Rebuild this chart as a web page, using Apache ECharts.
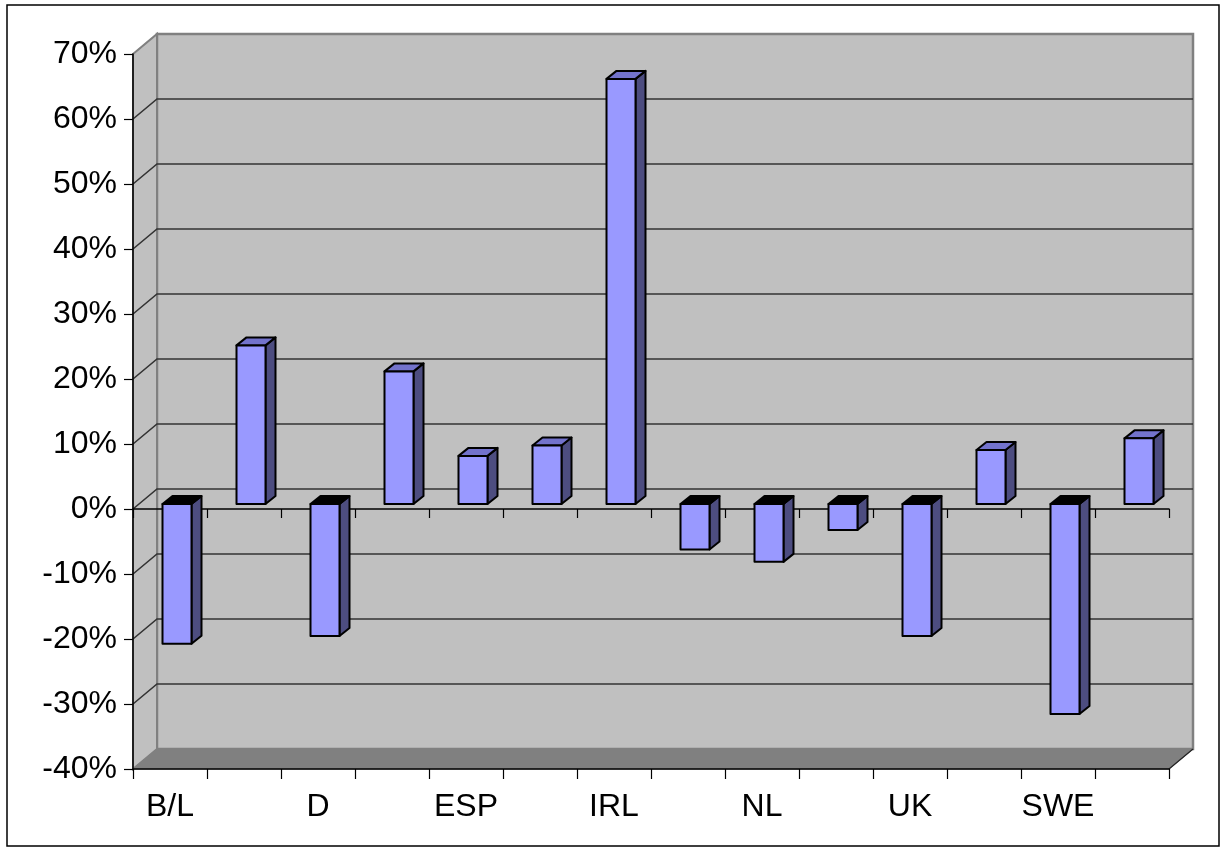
<!DOCTYPE html>
<html>
<head>
  <meta charset="UTF-8">
  <title>3D column chart</title>
  <script src="https://cdn.jsdelivr.net/npm/echarts@6/dist/echarts.min.js"></script>
  <style>
    body { margin: 0; padding: 0; background: #fff; }
    #chart { width: 1220px; height: 848px; }
  </style>
</head>
<body>
  <div id="chart"></div>
  <script>
    // data
    var categories = ['B/L', '', 'D', '', 'ESP', '', 'IRL', '', 'NL', '', 'UK', '', 'SWE', ''];
    var changes = [-0.215, 0.244, -0.203, 0.204, 0.074, 0.090, 0.654, -0.070, -0.089, -0.040, -0.203, 0.083, -0.323, 0.101];
    var gridTicks = [-0.3, -0.2, -0.1, 0, 0.1, 0.2, 0.3, 0.4, 0.5, 0.6];

    var Y_MIN = -0.4, Y_MAX = 0.7;
    // oblique depth of the walls, and of the bars inside them
    var DX = 24, DY = -20;
    var BAR_DX = 7, BAR_DY = -5, BAR_W = 29, SIDE_DX = 10, SIDE_DY = -8;

    var chart = echarts.init(document.getElementById('chart'));

    function plotEdges(api) {
      var bw = api.size([1, 0])[0];
      var left = api.coord([0, 0])[0] - bw / 2;
      var right = api.coord([categories.length - 1, 0])[0] + bw / 2;
      var yTop = api.coord([0, Y_MAX])[1];
      var yBot = api.coord([0, Y_MIN])[1];
      return { left: left, right: right, yTop: yTop, yBot: yBot };
    }

    function renderWalls(params, api) {
      var e = plotEdges(api);
      return {
        type: 'group',
        children: [
          {
            type: 'rect',
            shape: { x: e.left + DX, y: e.yTop + DY, width: e.right - e.left, height: e.yBot - e.yTop },
            style: { fill: '#c0c0c0', stroke: '#808080', lineWidth: 2.5 }
          },
          {
            type: 'polygon',
            shape: { points: [[e.left, e.yTop], [e.left + DX, e.yTop + DY], [e.left + DX, e.yBot + DY], [e.left, e.yBot]] },
            style: { fill: '#c0c0c0', stroke: '#808080', lineWidth: 2 }
          },
          {
            type: 'polygon',
            shape: { points: [[e.left, e.yBot], [e.right, e.yBot], [e.right + DX, e.yBot + DY], [e.left + DX, e.yBot + DY]] },
            style: { fill: '#808080', stroke: '#808080', lineWidth: 1 }
          },
          {
            type: 'line',
            shape: { x1: e.right, y1: e.yBot, x2: e.right + DX, y2: e.yBot + DY },
            style: { stroke: '#222', lineWidth: 1.2 }
          }
        ]
      };
    }

    function renderGridLine(params, api) {
      var e = plotEdges(api);
      var y = api.coord([0, api.value(0)])[1];
      return {
        type: 'polyline',
        shape: { points: [[e.left, y], [e.left + DX, y + DY], [e.right + DX, y + DY]] },
        style: { stroke: '#333', lineWidth: 1.6, fill: null }
      };
    }

    function renderBar(params, api) {
      var idx = api.value(0);
      var v = api.value(1);
      var c0 = api.coord([idx, 0]);
      var c1 = api.coord([idx, v]);
      var xl = c0[0] + BAR_DX - BAR_W / 2;
      var xr = xl + BAR_W;
      var y0 = c0[1] + BAR_DY;
      var y1 = c1[1] + BAR_DY;
      var top = Math.min(y0, y1);
      var bot = Math.max(y0, y1);
      var edge = { stroke: '#000', lineWidth: 2, lineJoin: 'round' };
      return {
        type: 'group',
        children: [
          {
            type: 'polygon',
            shape: { points: [[xr, top], [xr + SIDE_DX, top + SIDE_DY], [xr + SIDE_DX, bot + SIDE_DY], [xr, bot]] },
            style: Object.assign({ fill: '#4d4d80' }, edge)
          },
          {
            type: 'polygon',
            shape: { points: [[xl, top], [xl + SIDE_DX, top + SIDE_DY], [xr + SIDE_DX, top + SIDE_DY], [xr, top]] },
            style: Object.assign({ fill: v >= 0 ? '#7373cc' : '#000' }, edge)
          },
          {
            type: 'rect',
            shape: { x: xl, y: top, width: BAR_W, height: bot - top },
            style: Object.assign({ fill: '#9999ff' }, edge)
          }
        ]
      };
    }

    var option = {
      animation: false,
      backgroundColor: '#fff',
      textStyle: { fontFamily: 'Liberation Sans, Arial, sans-serif' },
      grid: {
        left: 133,
        right: 51,
        top: 54,
        bottom: 79,
        outerBoundsMode: 'none'
      },
      xAxis: [
        {
          type: 'category',
          data: categories,
          z: 3,
          axisLine: { onZero: true, lineStyle: { color: '#000', width: 1.5 } },
          axisTick: { show: true, length: 9, alignWithLabel: false, lineStyle: { color: '#000', width: 1.2 } },
          axisLabel: { show: false },
          splitLine: { show: false }
        },
        {
          type: 'category',
          data: categories,
          position: 'bottom',
          z: 3,
          axisLine: { onZero: false, lineStyle: { color: '#000', width: 1.5 } },
          axisTick: { show: true, length: 10, alignWithLabel: false, lineStyle: { color: '#000', width: 1.2 } },
          axisLabel: { interval: 0, color: '#000', fontSize: 32, margin: 22 },
          splitLine: { show: false }
        }
      ],
      yAxis: {
        type: 'value',
        min: Y_MIN,
        max: Y_MAX,
        interval: 0.1,
        z: 3,
        axisLine: { show: true, lineStyle: { color: '#000', width: 1.5 } },
        axisTick: { show: true, length: 9, lineStyle: { color: '#000', width: 1.2 } },
        axisLabel: {
          color: '#000',
          fontSize: 32,
          margin: 16,
          formatter: function (v) { return Math.round(v * 100) + '%'; }
        },
        splitLine: { show: false }
      },
      graphic: [
        {
          type: 'rect',
          shape: { x: 7, y: 5, width: 1212, height: 841 },
          style: { fill: null, stroke: '#000', lineWidth: 1.5 },
          z: 100
        }
      ],
      series: [
        {
          type: 'custom',
          name: 'walls',
          xAxisIndex: 0,
          z: 1,
          clip: false,
          silent: true,
          data: [[0, 0]],
          renderItem: renderWalls
        },
        {
          type: 'custom',
          name: 'gridlines',
          xAxisIndex: 0,
          z: 2,
          clip: false,
          silent: true,
          encode: { y: 0 },
          data: gridTicks.map(function (t) { return [t]; }),
          renderItem: renderGridLine
        },
        {
          type: 'custom',
          name: 'change',
          xAxisIndex: 0,
          z: 5,
          clip: false,
          data: changes.map(function (v, i) { return [i, v]; }),
          renderItem: renderBar
        }
      ]
    };

    chart.setOption(option);
  </script>
</body>
</html>
